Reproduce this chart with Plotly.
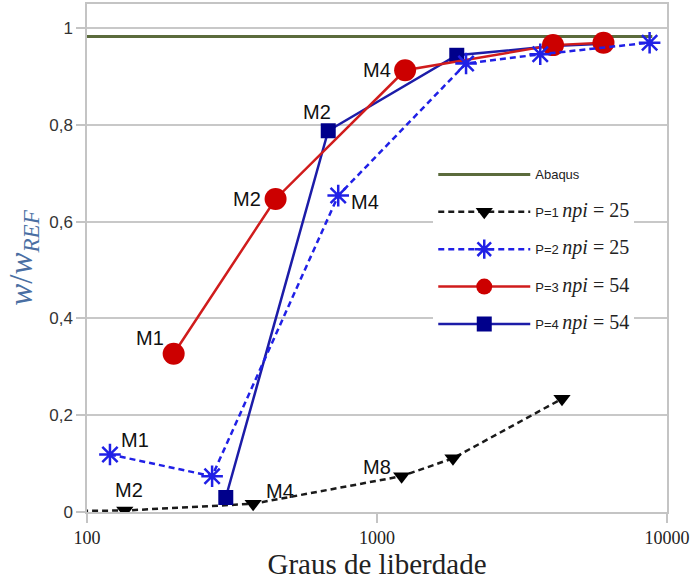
import math
import plotly.graph_objects as go

# ---- data ----
abaqus_dof = [70, 8900]
abaqus_w = [0.983, 0.983]

p1_dof = [70, 135, 374, 1216, 1828, 4344]
p1_w = [0.002, 0.003, 0.017, 0.074, 0.111, 0.234]

p2_dof = [120, 270, 735, 2028, 3655, 8710]
p2_w = [0.119, 0.074, 0.654, 0.927, 0.946, 0.970]

p3_dof = [199, 447, 1250, 4045, 6040]
p3_w = [0.327, 0.647, 0.913, 0.965, 0.970]

p4_dof = [301, 679, 1884, 4045, 6040]
p4_w = [0.030, 0.788, 0.944, 0.963, 0.968]

x_tickvals = [100, 1000, 10000]
x_ticktext = ["100", "1000", "10000"]
y_tickvals = [0, 0.2, 0.4, 0.6, 0.8, 1.0]

legend_names = [
    "Abaqus",
    "P=1 <span style='font-family:Liberation Serif;font-size:20px'><i>npi</i> = 25</span>",
    "P=2 <span style='font-family:Liberation Serif;font-size:20px'><i>npi</i> = 25</span>",
    "P=3 <span style='font-family:Liberation Serif;font-size:20px'><i>npi</i> = 54</span>",
    "P=4 <span style='font-family:Liberation Serif;font-size:20px'><i>npi</i> = 54</span>",
]

# point labels: (series dof, series w, index, text, xanchor, xshift, yshift)
labels = [
    (p3_dof, p3_w, 0, "M1", "right", -8, 16),
    (p3_dof, p3_w, 1, "M2", "right", -13, 0),
    (p3_dof, p3_w, 2, "M4", "right", -12, 0),
    (p4_dof, p4_w, 1, "M2", "center", -11, 19),
    (p2_dof, p2_w, 2, "M4", "left", 11, -6),
    (p2_dof, p2_w, 0, "M1", "left", 9, 14),
    (p1_dof, p1_w, 1, "M2", "center", 4, 21),
    (p1_dof, p1_w, 2, "M4", "left", 11, 13),
    (p1_dof, p1_w, 3, "M8", "right", -9, 9),
]

fig = go.Figure()

fig.add_trace(go.Scatter(
    x=abaqus_dof, y=abaqus_w, mode="lines", name=legend_names[0],
    line=dict(color="#5b6b3c", width=3), legendrank=1, legendgroup="a"))

fig.add_trace(go.Scatter(
    x=p1_dof, y=p1_w, mode="lines+markers", name=legend_names[1],
    line=dict(color="#1a1a1a", width=2.5, dash="6px,4px"),
    marker=dict(symbol="triangle-down", size=15, color="#000000"),
    legendrank=2, legendgroup="b"))

fig.add_trace(go.Scatter(
    x=p4_dof, y=p4_w, mode="lines+markers", name=legend_names[4],
    line=dict(color="#1c1ca8", width=2.5),
    marker=dict(symbol="square", size=15, color="#00008b"),
    legendrank=5, legendgroup="e"))

fig.add_trace(go.Scatter(
    x=p3_dof, y=p3_w, mode="lines+markers", name=legend_names[3],
    line=dict(color="#d01c1c", width=2.5),
    marker=dict(symbol="circle", size=22, color="#cc0000"),
    legendrank=4, legendgroup="d"))

fig.add_trace(go.Scatter(
    x=p2_dof, y=p2_w, mode="lines+markers", name=legend_names[2],
    line=dict(color="#2020e6", width=2.5, dash="6px,4px"),
    marker=dict(symbol="asterisk-open", size=18,
                line=dict(color="#1010e0", width=2.5)),
    legendrank=3, legendgroup="c"))

for dof, w, i, txt, xa, xs, ys in labels:
    fig.add_annotation(
        x=math.log10(dof[i]), y=w[i], xref="x", yref="y", text=txt,
        showarrow=False, xanchor=xa, yanchor="middle", xshift=xs, yshift=ys,
        font=dict(family="Liberation Sans, Arial, sans-serif", size=20,
                  color="#111111"))

fig.update_layout(
    width=695, height=580,
    margin=dict(l=87, r=28, t=4, b=68, autoexpand=False),
    paper_bgcolor="white", plot_bgcolor="white",
    separators=", ",
    showlegend=True,
    legend=dict(
        x=0.597, y=0.694, xanchor="left", yanchor="top",
        bgcolor="white", borderwidth=0,
        font=dict(family="Liberation Sans, Arial, sans-serif", size=13,
                  color="#222222"),
        traceorder="grouped", tracegroupgap=17.5, itemwidth=92,
    ),
    xaxis=dict(
        type="log", range=[2, 4], automargin=True,
        tickvals=x_tickvals, ticktext=x_ticktext,
        showgrid=False, zeroline=False,
        showline=True, linecolor="#c4c4c4", linewidth=1.5, mirror=True,
        ticks="outside", ticklen=9, tickcolor="#c4c4c4", tickwidth=1.5,
        tickfont=dict(family="Liberation Serif, serif", size=18,
                      color="#222222"),
        title=dict(text="Graus de liberdade", standoff=0,
                   font=dict(family="Liberation Serif, serif", size=29,
                             color="#222222")),
    ),
    yaxis=dict(
        range=[0, 1.05], automargin=True,
        tickvals=y_tickvals,
        showgrid=True, gridcolor="#c8c8c8", gridwidth=1.5,
        zeroline=False,
        showline=True, linecolor="#c4c4c4", linewidth=1.5, mirror=True,
        ticks="outside", ticklen=9, tickcolor="#c4c4c4", tickwidth=1.5,
        tickfont=dict(family="Liberation Sans, Arial, sans-serif", size=17,
                      color="#333333"),
        title=dict(text="<i>w</i>/<i>w</i><sub><i>REF</i></sub>", standoff=7,
                   font=dict(family="Liberation Serif, serif", size=33,
                             color="#4a6fa3")),
    ),
)

fig.write_html("out.html", config={"displayModeBar": False},
               post_script="document.body.style.margin='0';"
                           "document.body.style.padding='0';")
